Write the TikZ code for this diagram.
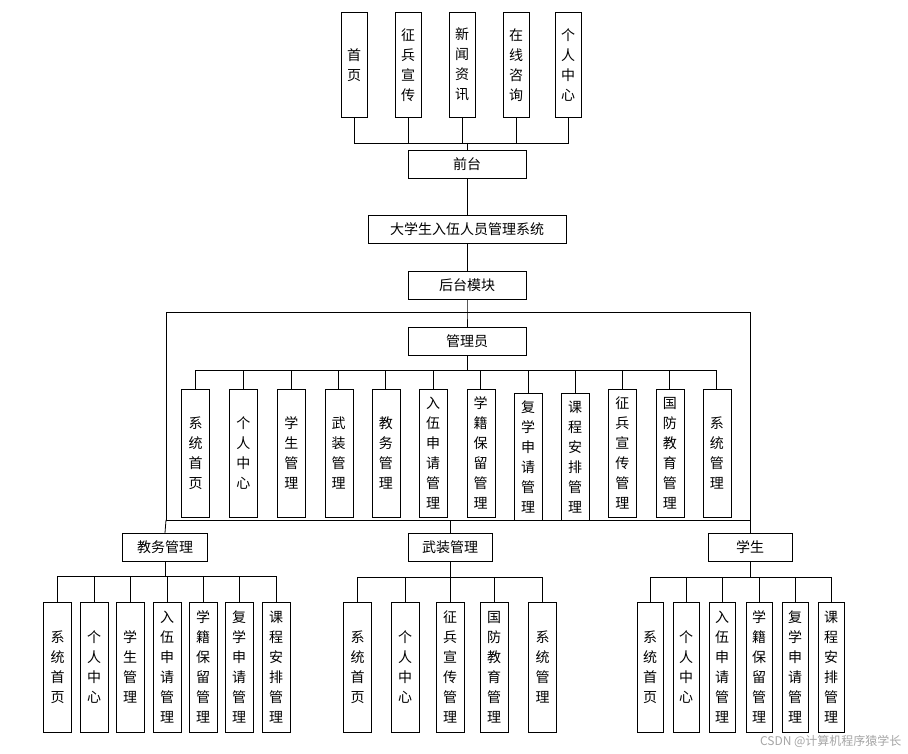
\documentclass[tikz,border=0pt]{standalone}
\usepackage{fontspec}
\setmainfont{Noto Sans CJK SC}
\begin{document}
\begin{tikzpicture}[x=1pt,y=-1pt,
  box/.style={draw,fill=white,inner sep=0pt,font=\fontsize{14}{20}\selectfont,align=center},
  hb/.style={box,minimum height=28pt},
  vb/.style={box,minimum width=26pt,anchor=north},
  ln/.style={line width=0.8pt}]
\useasboundingbox (0,0) rectangle (908,754);
\fill[white] (0,0) rectangle (908,754);
% top
\foreach \n/\x/\t in {t1/354/首\\页, t2/408/征\\兵\\宣\\传, t3/462/新\\闻\\资\\讯, t4/516/在\\线\\咨\\询, t5/568/个\\人\\中\\心}
  \node[vb,minimum height=105pt] (\n) at (\x,12) {\t};
\node[hb,minimum width=118pt] (qt) at (467,164) {前台};
\node[hb,minimum width=198pt] (sys) at (467,229) {大学生入伍人员管理系统};
\node[hb,minimum width=118pt] (ht) at (467,285) {后台模块};
\node[hb,minimum width=118pt] (adm) at (467,341) {管理员};
\coordinate (b1) at (467,143);
\foreach \n in {t1,t2,t3,t4,t5} \draw[ln] (\n.south) |- (b1);
\draw[ln] (b1) -- (qt.north);
\draw[ln] (qt.south) -- (sys.north);
\draw[ln] (sys.south) -- (ht.north);
\coordinate (rt) at (467,312);
\coordinate (rl) at (166,312);
\coordinate (rr) at (750,312);
\coordinate (rbl) at (166,520);
\coordinate (rbr) at (750,520);
\draw[ln] (ht.south) -- (rt) -- (adm.north);
\draw[ln] (rl) -- (rr) -- (rbr) -- (rbl) -- cycle;
% admin children
\coordinate (b2) at (467,370);
\draw[ln] (adm.south) -- (b2);
\foreach \n/\x/\y/\h/\t in {
 a1/195.6/389/128/系\\统\\首\\页, a2/243.4/389/128/个\\人\\中\\心, a3/291.3/389/128/学\\生\\管\\理,
 a4/338.7/389/128/武\\装\\管\\理, a5/385.8/389/128/教\\务\\管\\理, a6/433.2/389/128/入\\伍\\申\\请\\管\\理,
 a7/480.7/389/128/学\\籍\\保\\留\\管\\理, a8/528.1/393/127/复\\学\\申\\请\\管\\理, a9/575.2/393/127/课\\程\\安\\排\\管\\理,
 a10/622.3/389/128/征\\兵\\宣\\传\\管\\理, a11/669.8/389/128/国\\防\\教\\育\\管\\理, a12/716.8/389/128/系\\统\\管\\理}
 { \node[vb,minimum height=\h pt,minimum width=28pt] (\n) at (\x,\y) {\t};
   \draw[ln] (\n.north) |- (b2); }
% second level
\node[hb,minimum width=85pt] (jw) at (165,547) {教务管理};
\node[hb,minimum width=84pt] (wz) at (450,547) {武装管理};
\node[hb,minimum width=84pt] (xs) at (750,547) {学生};
\draw[ln] (rbl) -- (jw.north);
\draw[ln] (rbr) -- (xs.north);
\coordinate (wt) at (450,520);
\draw[ln] (wt) -- (wz.north);
\coordinate (c1) at (165,576);
\coordinate (c2) at (450,577);
\coordinate (c3) at (750,577);
\draw[ln] (jw.south) -- (c1);
\draw[ln] (wz.south) -- (c2);
\draw[ln] (xs.south) -- (c3);
\foreach \n/\x/\t in {j1/57.5/系\\统\\首\\页, j2/94/个\\人\\中\\心, j3/130/学\\生\\管\\理, j4/167/入\\伍\\申\\请\\管\\理, j5/203/学\\籍\\保\\留\\管\\理, j6/239/复\\学\\申\\请\\管\\理, j7/276/课\\程\\安\\排\\管\\理}
 { \node[vb,minimum height=130pt,minimum width=28pt] (\n) at (\x,602) {\t}; \draw[ln] (\n.north) |- (c1); }
\foreach \n/\x/\t in {w1/357.5/系\\统\\首\\页, w2/405/个\\人\\中\\心, w3/450/征\\兵\\宣\\传\\管\\理, w4/494/国\\防\\教\\育\\管\\理, w5/542.5/系\\统\\管\\理}
 { \node[vb,minimum height=130pt,minimum width=28pt] (\n) at (\x,602) {\t}; \draw[ln] (\n.north) |- (c2); }
\foreach \n/\x/\t in {s1/650/系\\统\\首\\页, s2/686/个\\人\\中\\心, s3/722/入\\伍\\申\\请\\管\\理, s4/759/学\\籍\\保\\留\\管\\理, s5/795/复\\学\\申\\请\\管\\理, s6/831/课\\程\\安\\排\\管\\理}
 { \node[vb,minimum height=130pt,minimum width=26pt] (\n) at (\x,602) {\t}; \draw[ln] (\n.north) |- (c3); }
\node[anchor=south east,text=gray!70,font=\fontsize{12}{14}\selectfont] (wm) at (905,751) {CSDN @计算机程序猿学长};
\end{tikzpicture}
\end{document}
